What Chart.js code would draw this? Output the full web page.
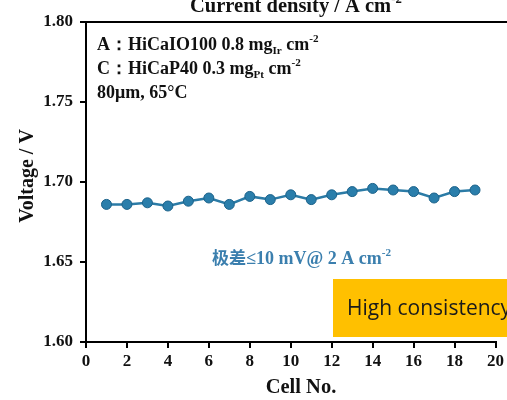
<!DOCTYPE html>
<html><head><meta charset="utf-8">
<script src="https://cdn.jsdelivr.net/npm/chart.js@4"></script>
<style>html,body{margin:0;padding:0;background:#fff}#wrap{width:507px;height:400px}</style>
</head><body><div id="wrap"><canvas id="c" width="507" height="400"></canvas></div>
<script>
const cellNo = [1,2,3,4,5,6,7,8,9,10,11,12,13,14,15,16,17,18,19];
const voltage = [1.686,1.686,1.687,1.685,1.688,1.690,1.686,1.691,1.689,1.692,1.689,1.692,1.694,1.696,1.695,1.694,1.690,1.694,1.695];
const xTicks = [0,2,4,6,8,10,12,14,16,18,20];
const yTicks = [1.60,1.65,1.70,1.75,1.80];

const SERIF = '"Liberation Serif","DejaVu Serif",serif';

function rich(ctx, x, y, segs, size, color) {
  ctx.save();
  ctx.fillStyle = color; ctx.textBaseline = 'alphabetic'; ctx.textAlign = 'left';
  for (const s of segs) {
    let fs = size, dy = 0;
    if (s.sub) { fs = size*0.62; dy = size*0.22; }
    if (s.sup) { fs = size*0.62; dy = -size*0.42; }
    if (s.cjk) { fs = size*0.95; }
    ctx.font = 'bold ' + fs + 'px ' + (s.cjk ? '"Noto Sans CJK SC",sans-serif' : SERIF);
    ctx.fillText(s.t, x, y + dy);
    x += ctx.measureText(s.t).width;
  }
  ctx.restore();
  return x;
}

const deco = {
  id: 'deco',
  afterDraw(chart) {
    const ctx = chart.ctx, a = chart.chartArea;
    ctx.save();
    // top border extending to the right edge
    ctx.strokeStyle = '#000'; ctx.lineWidth = 2;
    ctx.beginPath(); ctx.moveTo(a.left-1, a.top); ctx.lineTo(507, a.top); ctx.stroke();
    // title (partially cut at top)
    rich(ctx, 190, 12, [{t:'Current density / A cm'},{t:'-2',sup:true}], 20.5, '#111');
    // info block
    rich(ctx, 97, 50, [{t:'A：HiCaIO100 0.8 mg'},{t:'Ir',sub:true},{t:' cm'},{t:'-2',sup:true}], 18, '#111');
    rich(ctx, 97, 74, [{t:'C：HiCaP40 0.3 mg'},{t:'Pt',sub:true},{t:' cm'},{t:'-2',sup:true}], 18, '#111');
    rich(ctx, 97, 98, [{t:'80μm, 65°C'}], 18, '#111');
    // blue annotation
    let x = rich(ctx, 212, 264, [{t:'极差',cjk:true}], 18, '#3b7fae');
    rich(ctx, x, 264, [{t:'≤10 mV@ 2 A cm'},{t:'-2',sup:true}], 18, '#3b7fae');
    // orange box
    ctx.fillStyle = '#FFC000';
    ctx.fillRect(333, 279, 174, 58);
    ctx.fillStyle = '#1a1a1a'; ctx.font = '21px "Open Sans","Noto Sans",sans-serif';
    ctx.textBaseline = 'middle'; ctx.textAlign = 'left';
    ctx.fillText('High consistency', 347, 309);
    // axis titles
    ctx.fillStyle = '#111'; ctx.font = 'bold 20.5px ' + SERIF; ctx.textAlign = 'center';
    ctx.fillText('Cell No.', 301, 388);
    ctx.save(); ctx.translate(28, 176); ctx.rotate(-Math.PI/2);
    ctx.font = 'bold 20px ' + SERIF; ctx.fillText('Voltage / V', 0, 0);
    ctx.restore();
    ctx.restore();
  }
};

new Chart(document.getElementById('c'), {
  type: 'line',
  data: {
    datasets: [{
      data: cellNo.map((c,i)=>({x:c, y:voltage[i]})),
      borderColor: '#2b7ba6', borderWidth: 2.5,
      pointBackgroundColor: '#2a7eab', pointBorderColor: '#1c628a', pointBorderWidth: 1,
      pointRadius: 5, tension: 0
    }]
  },
  options: {
    responsive: false, animation: false, devicePixelRatio: 1,
    layout: { padding: { top: 22, right: 9, left: 0, bottom: 0 } },
    plugins: { legend: { display: false }, tooltip: { enabled: false } },
    scales: {
      x: {
        type: 'linear', min: 0, max: 20,
        afterBuildTicks: s => { s.ticks = xTicks.map(v=>({value:v})); },
        afterFit: s => { s.height = 58; },
        grid: { drawOnChartArea: false, tickLength: 6, color: '#000', lineWidth: 2 },
        border: { color: '#000', width: 2 },
        ticks: { color: '#111', padding: 3, maxRotation: 0, font: { family: SERIF, size: 17, weight: 'bold' } }
      },
      y: {
        min: 1.60, max: 1.80,
        afterBuildTicks: s => { s.ticks = yTicks.map(v=>({value:v})); },
        afterFit: s => { s.width = 86; },
        grid: { drawOnChartArea: false, tickLength: 6, color: '#000', lineWidth: 2 },
        border: { color: '#000', width: 2 },
        ticks: { color: '#111', padding: 7, callback: v => v.toFixed(2), font: { family: SERIF, size: 17, weight: 'bold' } }
      }
    }
  },
  plugins: [deco]
});
</script></body></html>
